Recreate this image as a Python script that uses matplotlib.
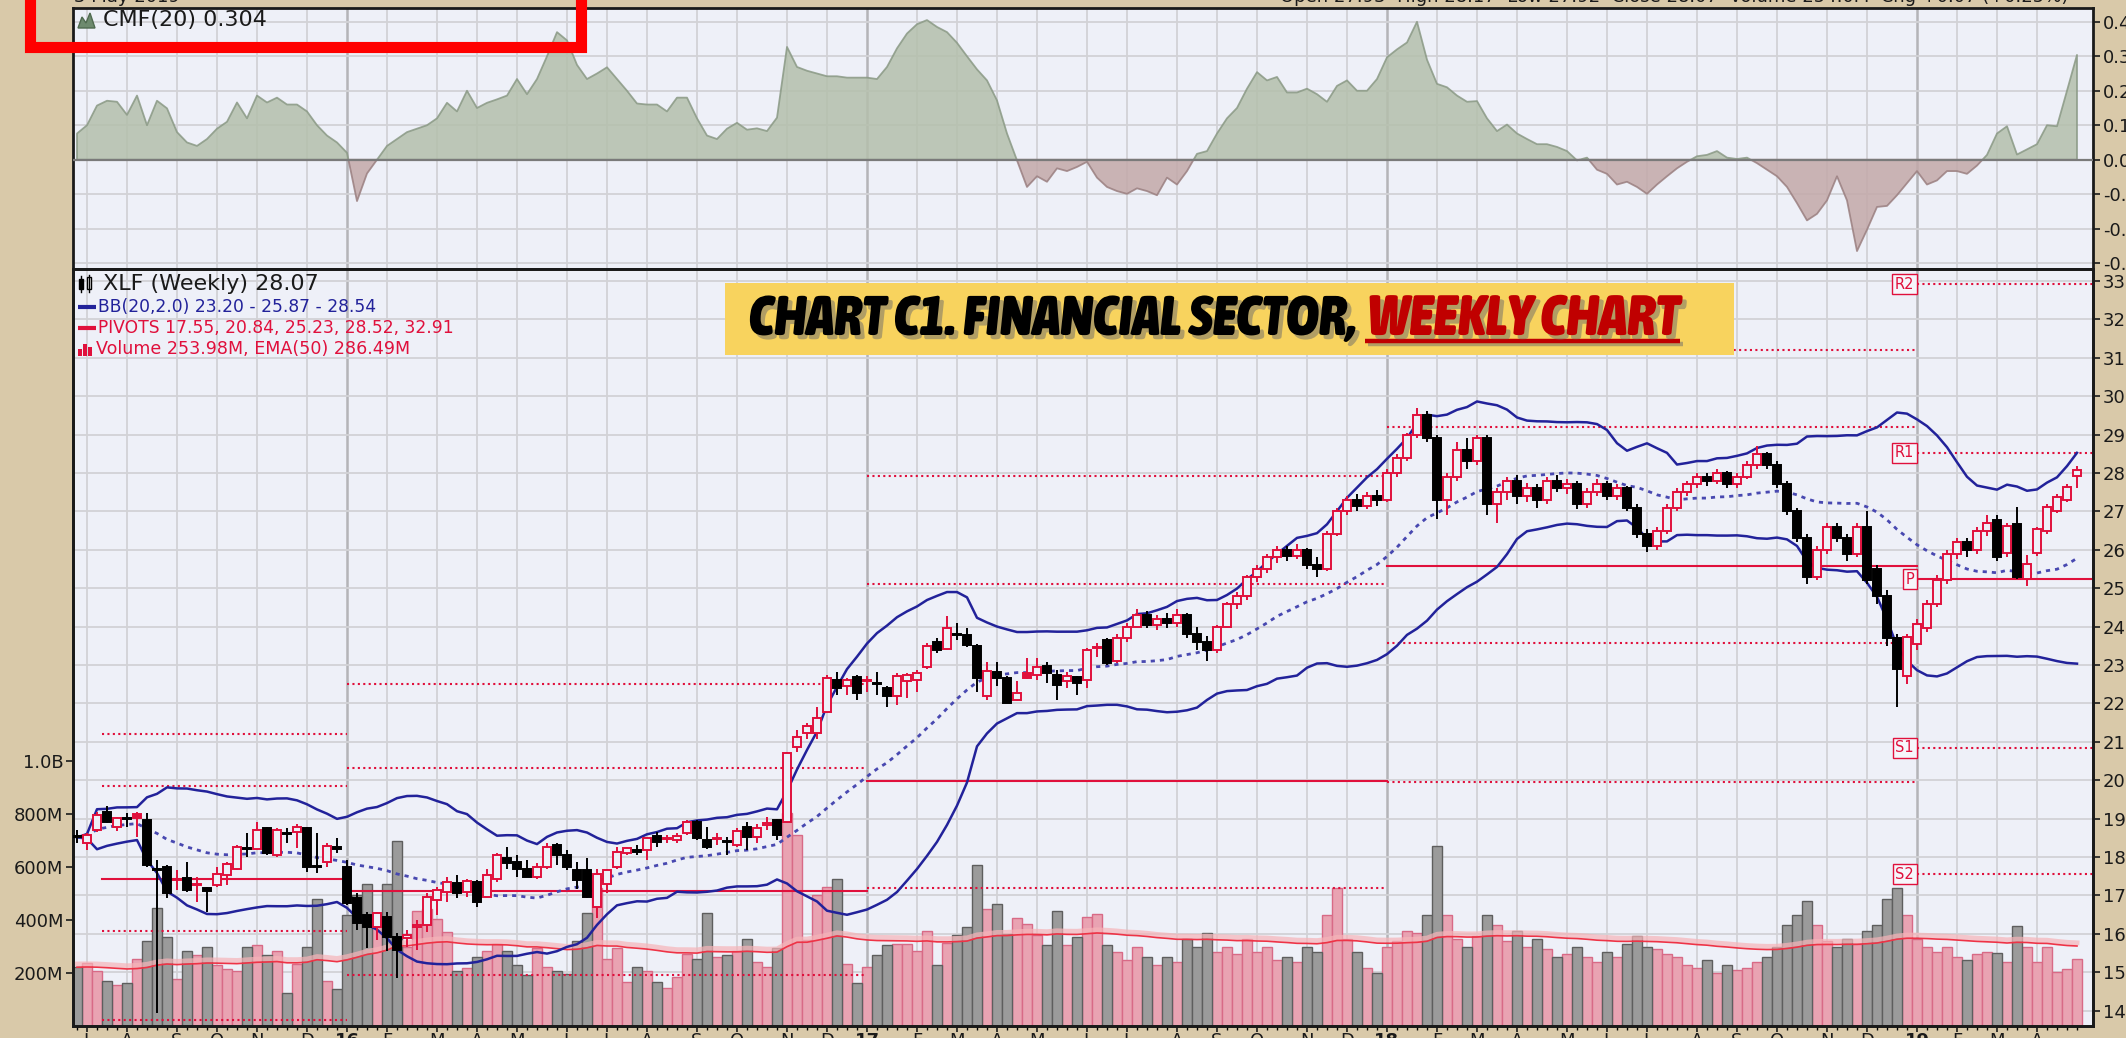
import numpy as np
import pandas as pd
import matplotlib
matplotlib.use("Agg")
import matplotlib.pyplot as plt
from matplotlib.patches import Rectangle, Polygon
from matplotlib.transforms import blended_transform_factory
from matplotlib.font_manager import FontProperties
import matplotlib.patheffects as pe
from matplotlib import font_manager

# ========= XLF weekly data (29 Jun 2015 .. 29 Apr 2019) =========
opens = np.array([
    18.53, 18.36, 18.70, 19.18, 18.79, 19.00, 19.11, 18.96, 17.70, 17.75,
    17.40, 17.45, 17.26, 17.20, 17.27, 17.53, 17.70, 18.24, 18.22, 18.75,
    18.05, 18.62, 18.66, 18.75, 17.77, 17.88, 18.25, 17.75, 16.92, 16.49,
    16.19, 16.45, 15.93, 15.88, 16.19, 16.23, 16.88, 17.10, 17.33, 17.10,
    17.36, 16.97, 17.44, 17.97, 17.88, 17.70, 17.49, 17.75, 18.31, 18.05,
    17.66, 17.66, 16.71, 17.31, 17.75, 18.10, 18.18, 18.18, 18.55, 18.47,
    18.43, 18.62, 18.92, 18.44, 18.47, 18.42, 18.31, 18.79, 18.53, 18.84,
    18.96, 18.92, 20.87, 21.24, 21.24, 21.78, 22.61, 22.44, 22.68, 22.59,
    22.53, 22.39, 22.18, 22.57, 22.61, 22.94, 23.61, 23.41, 23.80, 23.78,
    23.49, 22.18, 22.83, 22.65, 22.09, 22.80, 22.74, 22.98, 22.74, 22.57,
    22.68, 22.61, 23.45, 23.65, 23.10, 23.70, 24.00, 24.30, 24.05, 24.20,
    24.10, 24.30, 23.80, 23.60, 23.40, 24.00, 24.60, 24.80, 25.30, 25.50,
    25.80, 26.00, 25.85, 26.00, 25.60, 25.50, 26.40, 27.00, 27.30, 27.15,
    27.40, 27.30, 28.00, 28.40, 29.00, 29.50, 28.90, 27.30, 27.90, 28.60,
    28.30, 28.90, 27.20, 27.50, 27.80, 27.40, 27.60, 27.30, 27.80, 27.60,
    27.70, 27.20, 27.50, 27.70, 27.40, 27.60, 27.10, 26.40, 26.10, 26.50,
    27.10, 27.50, 27.70, 27.90, 27.80, 28.00, 27.70, 27.90, 28.20, 28.50,
    28.20, 27.70, 27.00, 26.30, 25.30, 26.00, 26.60, 26.30, 25.90, 26.60,
    25.50, 24.80, 23.70, 22.70, 23.55, 23.95, 24.60, 25.20, 25.90, 26.20,
    26.00, 26.50, 26.78, 25.92, 26.67, 25.24, 25.92, 26.49, 27.00, 27.30,
    27.93])
highs = np.array([
    18.70, 18.62, 19.18, 19.33, 19.05, 19.14, 19.18, 19.14, 17.92, 17.79,
    17.66, 17.88, 17.49, 17.23, 17.75, 17.88, 18.31, 18.62, 18.92, 18.79,
    18.75, 18.75, 18.86, 18.79, 18.62, 18.36, 18.49, 17.92, 17.05, 16.58,
    16.58, 16.58, 16.01, 16.10, 16.36, 17.05, 17.23, 17.49, 17.53, 17.44,
    17.40, 17.70, 18.10, 18.27, 18.05, 17.92, 17.84, 18.36, 18.36, 18.18,
    17.88, 17.97, 17.68, 17.70, 18.27, 18.25, 18.31, 18.53, 18.66, 18.57,
    18.62, 18.96, 18.96, 18.79, 18.62, 18.53, 18.75, 18.92, 18.87, 19.05,
    19.00, 20.74, 21.30, 21.50, 21.91, 22.74, 22.83, 22.65, 22.74, 22.70,
    22.83, 22.44, 22.78, 22.78, 22.87, 23.56, 23.69, 24.27, 24.08, 23.95,
    23.55, 23.09, 23.09, 22.70, 22.57, 23.17, 23.17, 23.09, 22.87, 22.83,
    22.70, 23.43, 23.56, 23.70, 23.80, 24.10, 24.45, 24.40, 24.30, 24.35,
    24.45, 24.35, 24.00, 23.75, 24.05, 24.65, 24.90, 25.35, 25.60, 25.90,
    26.10, 26.10, 26.15, 26.05, 25.80, 26.50, 27.10, 27.40, 27.45, 27.50,
    27.55, 28.10, 28.50, 29.05, 29.70, 29.60, 29.00, 28.00, 28.80, 28.90,
    29.00, 29.00, 27.60, 27.90, 27.95, 27.75, 27.70, 27.90, 27.95, 27.85,
    27.80, 27.60, 27.85, 27.80, 27.70, 27.65, 27.20, 26.55, 26.60, 27.20,
    27.60, 27.80, 28.00, 28.00, 28.10, 28.05, 28.00, 28.30, 28.70, 28.55,
    28.30, 27.80, 27.10, 26.40, 26.10, 26.70, 26.70, 26.40, 26.70, 27.00,
    25.60, 24.95, 23.80, 23.80, 24.20, 24.70, 25.35, 26.00, 26.30, 26.30,
    26.60, 26.90, 26.90, 26.70, 27.11, 25.86, 26.60, 27.20, 27.45, 27.70,
    28.17])
lows = np.array([
    18.36, 18.18, 18.66, 18.88, 18.68, 18.79, 18.53, 17.75, 13.93, 16.92,
    17.14, 17.10, 16.84, 16.58, 17.23, 17.27, 17.66, 18.01, 18.18, 18.05,
    18.01, 18.36, 18.23, 17.62, 17.58, 17.75, 18.10, 16.75, 16.10, 15.62,
    15.84, 15.54, 14.84, 15.66, 15.58, 16.06, 16.49, 16.84, 16.92, 16.97,
    16.71, 16.92, 17.36, 17.70, 17.49, 17.47, 17.42, 17.70, 17.79, 17.66,
    17.18, 16.92, 16.40, 17.05, 17.70, 18.05, 18.05, 17.92, 18.27, 18.36,
    18.36, 18.57, 18.44, 18.20, 18.31, 18.05, 18.27, 18.18, 18.36, 18.70,
    18.44, 18.88, 20.74, 21.06, 21.06, 21.74, 22.22, 22.22, 22.10, 22.30,
    22.22, 21.91, 21.96, 22.13, 22.30, 22.89, 23.30, 23.39, 23.65, 23.47,
    22.30, 22.10, 22.44, 22.00, 22.05, 22.63, 22.60, 22.52, 22.10, 22.39,
    22.22, 22.39, 23.22, 23.00, 23.05, 23.60, 23.95, 23.95, 23.90, 23.95,
    24.00, 23.70, 23.40, 23.10, 23.30, 23.95, 24.45, 24.70, 25.15, 25.40,
    25.65, 25.70, 25.75, 25.50, 25.30, 25.45, 26.35, 26.90, 27.00, 27.05,
    27.15, 27.25, 27.90, 28.30, 28.90, 28.80, 26.80, 26.90, 27.80, 28.10,
    28.20, 26.90, 26.70, 27.30, 27.20, 27.25, 27.10, 27.20, 27.50, 27.45,
    27.05, 27.10, 27.40, 27.30, 27.30, 27.00, 26.30, 25.95, 26.00, 26.40,
    27.00, 27.40, 27.60, 27.65, 27.70, 27.60, 27.60, 27.85, 28.10, 28.10,
    27.60, 26.90, 26.20, 25.10, 25.20, 25.90, 26.20, 25.70, 25.80, 25.10,
    24.60, 23.50, 21.90, 22.50, 23.40, 23.85, 24.50, 25.10, 25.75, 25.80,
    25.90, 26.35, 25.70, 25.80, 25.24, 25.05, 25.85, 26.40, 26.95, 27.25,
    27.60])
closes = np.array([
    18.51, 18.57, 19.09, 18.92, 19.01, 18.98, 19.01, 17.79, 17.65, 17.05,
    17.42, 17.14, 17.28, 17.12, 17.57, 17.83, 18.27, 18.22, 18.70, 18.10,
    18.70, 18.60, 18.79, 17.75, 17.73, 18.29, 18.22, 16.80, 16.27, 16.19,
    16.53, 15.93, 15.58, 15.97, 16.23, 16.97, 17.14, 17.36, 17.07, 17.38,
    16.84, 17.53, 18.05, 17.84, 17.70, 17.49, 17.75, 18.27, 18.05, 17.75,
    17.40, 16.97, 17.57, 17.66, 18.14, 18.23, 18.14, 18.49, 18.38, 18.49,
    18.55, 18.92, 18.49, 18.25, 18.49, 18.40, 18.68, 18.53, 18.75, 18.88,
    18.57, 20.70, 21.13, 21.41, 21.61, 22.65, 22.39, 22.61, 22.28, 22.61,
    22.50, 22.18, 22.70, 22.74, 22.80, 23.49, 23.39, 23.95, 23.78, 23.52,
    22.65, 22.85, 22.65, 22.02, 22.28, 22.65, 22.96, 22.78, 22.48, 22.70,
    22.54, 23.39, 23.48, 23.04, 23.70, 24.00, 24.30, 24.05, 24.20, 24.10,
    24.30, 23.80, 23.60, 23.40, 24.00, 24.60, 24.80, 25.30, 25.50, 25.80,
    26.00, 25.85, 26.00, 25.60, 25.50, 26.40, 27.00, 27.30, 27.15, 27.40,
    27.30, 28.00, 28.40, 29.00, 29.50, 28.90, 27.30, 27.90, 28.60, 28.30,
    28.90, 27.20, 27.50, 27.80, 27.40, 27.60, 27.30, 27.80, 27.60, 27.70,
    27.20, 27.50, 27.70, 27.40, 27.60, 27.10, 26.40, 26.10, 26.50, 27.10,
    27.50, 27.70, 27.90, 27.80, 28.00, 27.70, 27.90, 28.20, 28.50, 28.20,
    27.70, 27.00, 26.30, 25.30, 26.00, 26.60, 26.30, 25.90, 26.60, 25.20,
    24.80, 23.70, 22.90, 23.72, 24.07, 24.60, 25.20, 25.90, 26.20, 26.00,
    26.50, 26.70, 25.81, 26.62, 25.29, 25.64, 26.54, 27.11, 27.37, 27.64,
    28.07])
# weekly volume, millions of shares
volumes = np.array([
    222, 239, 207, 170, 155, 162, 254, 321, 447, 336,
    179, 283, 268, 298, 230, 216, 207, 298, 306, 268,
    283, 126, 235, 298, 478, 170, 141, 419, 494, 535,
    424, 535, 698, 300, 434, 440, 405, 354, 208, 218,
    260, 283, 311, 283, 230, 191, 296, 223, 208, 197,
    321, 428, 520, 254, 296, 167, 223, 208, 167, 145,
    185, 273, 254, 428, 260, 268, 283, 329, 243, 223,
    296, 804, 721, 323, 494, 525, 553, 235, 164, 223,
    268, 306, 311, 311, 283, 358, 230, 314, 343, 374,
    608, 440, 462, 348, 409, 386, 343, 306, 434, 306,
    336, 411, 424, 306, 280, 250, 300, 260, 230, 260,
    240, 330, 300, 350, 280, 300, 270, 330, 280, 300,
    250, 260, 240, 300, 280, 420, 520, 330, 280, 220,
    200, 300, 320, 360, 350, 420, 680, 420, 330, 300,
    340, 420, 380, 320, 360, 300, 330, 290, 260, 270,
    300, 260, 240, 280, 260, 310, 340, 300, 290, 270,
    260, 230, 220, 250, 200, 230, 210, 220, 240, 260,
    300, 380, 420, 470, 380, 320, 300, 330, 310, 360,
    380, 480, 520, 420, 330, 300, 280, 300, 260, 250,
    270, 280, 275, 243, 378, 298, 243, 298, 204, 215,
    253.98], dtype=float)
# Chaikin money flow (20)
cmf = np.array([
    0.076, 0.10, 0.157, 0.171, 0.168, 0.13, 0.186, 0.10, 0.171, 0.149,
    0.08, 0.05, 0.04, 0.06, 0.09, 0.11, 0.166, 0.12, 0.186, 0.166,
    0.18, 0.16, 0.16, 0.14, 0.10, 0.07, 0.05, 0.02, -0.12, -0.04,
    0.0, 0.04, 0.06, 0.08, 0.09, 0.10, 0.12, 0.165, 0.14, 0.20,
    0.15, 0.165, 0.175, 0.186, 0.234, 0.19, 0.234, 0.30, 0.37, 0.346,
    0.275, 0.234, 0.25, 0.268, 0.234, 0.20, 0.163, 0.16, 0.16, 0.14,
    0.18, 0.18, 0.12, 0.07, 0.06, 0.09, 0.107, 0.087, 0.091, 0.083,
    0.122, 0.327, 0.269, 0.258, 0.25, 0.242, 0.242, 0.238, 0.238, 0.238,
    0.234, 0.269, 0.323, 0.366, 0.393, 0.405, 0.385, 0.37, 0.339, 0.30,
    0.262, 0.23, 0.172, 0.076, -0.002, -0.079, -0.048, -0.064, -0.025, -0.033,
    -0.021, -0.006, -0.052, -0.079, -0.091, -0.099, -0.083, -0.091, -0.103, -0.052,
    -0.072, -0.033, 0.017, 0.025, 0.076, 0.12, 0.15, 0.206, 0.254, 0.23,
    0.24, 0.195, 0.195, 0.206, 0.19, 0.168, 0.214, 0.23, 0.2, 0.2,
    0.234, 0.297, 0.32, 0.34, 0.40, 0.29, 0.22, 0.21, 0.186, 0.168,
    0.17, 0.12, 0.083, 0.102, 0.076, 0.06, 0.045, 0.045, 0.037, 0.025,
    -0.002, 0.006, -0.029, -0.041, -0.072, -0.064, -0.079, -0.099, -0.072, -0.048,
    -0.025, -0.006, 0.01, 0.014, 0.025, 0.006, 0.002, 0.006, -0.01, -0.029,
    -0.048, -0.079, -0.126, -0.176, -0.157, -0.118, -0.048, -0.118, -0.265, -0.203,
    -0.137, -0.134, -0.103, -0.068, -0.033, -0.072, -0.06, -0.033, -0.033, -0.041,
    -0.017, 0.014, 0.076, 0.097, 0.015, 0.03, 0.045, 0.10, 0.097, 0.20,
    0.304])

# annual pivot levels S2, S1, P, R1, R2
pivot_years = [2015, 2016, 2017, 2018, 2019]
pivot_levels = [
    [13.76, 16.08, 17.44, 19.85, 21.19],
    [11.75, 14.94, 17.12, 20.31, 22.50],
    [12.10, 17.19, 19.98, 25.10, 27.92],
    [19.95, 23.57, 25.58, 29.20, 31.20],
    [17.55, 20.84, 25.23, 28.52, 32.91],
]
pivot_names = ["S2", "S1", "P", "R1", "R2"]

weeks = pd.date_range("2015-06-29", periods=len(closes), freq="7D")

# ========= colours =========
BG = "#eef0f8"
FIG_BG = "#d9c9a9"
RED = "#e0103c"
NAVY = "#22229a"
GRID = "#d2d2d6"
YEAR_GRID = "#b4b4b8"

W, H = 2126, 1038
fig = plt.figure(figsize=(W / 100, H / 100), dpi=100)
fig.patch.set_facecolor(FIG_BG)


def px_axes(x0, y0, x1, y1, **kw):
    return fig.add_axes([x0 / W, 1 - y1 / H, (x1 - x0) / W, (y1 - y0) / H], **kw)


def narrow_bold_font():
    # look for an installed narrow / condensed face, bold (and italic if possible)
    best = None
    for f in font_manager.fontManager.ttflist:
        nm = f.name.lower()
        st = f.stretch
        narrow = ("narrow" in nm or "condensed" in nm or
                  st in ("condensed", "semi-condensed", "extra-condensed", "ultra-condensed") or
                  (isinstance(st, (int, float)) and st < 500))
        if not narrow:
            continue
        wt = f.weight if isinstance(f.weight, (int, float)) else \
            {"bold": 700, "heavy": 900, "black": 900, "extra bold": 800, "semibold": 600}.get(f.weight, 400)
        score = (wt >= 700) * 4 + (wt >= 800) + (f.style in ("italic", "oblique")) * 2
        if best is None or score > best[0]:
            best = (score, f.fname)
    if best is None:
        return FontProperties(family="DejaVu Sans", weight="bold", style="italic")
    return FontProperties(fname=best[1])


n = len(closes)
x = np.arange(n)
XL = (-0.4, 201.6)

# month / year grid positions
months = pd.date_range("2015-07-01", "2019-05-01", freq="MS")
mpos = np.searchsorted(weeks.values, months.values)
keep = mpos < n
months, mpos = months[keep], mpos[keep]
mlabels = [f"{m.year % 100:02d}" if m.month == 1 else "JFMAMJJASOND"[m.month - 1] for m in months]
year_pos = {m.year: p for m, p in zip(months, mpos) if m.month == 1}


def month_grid(ax):
    for m, p in zip(months, mpos):
        if m.month == 1:
            ax.axvline(p, color=YEAR_GRID, lw=1.8, zorder=0)
        else:
            ax.axvline(p, color=GRID, lw=1.3, zorder=0)


def frame(ax):
    for s in ax.spines.values():
        s.set_color("#1a1a1a")
        s.set_linewidth(2)


# ========= CMF panel =========
ax_c = px_axes(73, 8, 2093, 269)
ax_c.set_facecolor(BG)
ax_c.set_xlim(*XL)
ax_c.set_ylim(-0.317, 0.44)
month_grid(ax_c)
for v in np.arange(-0.3, 0.45, 0.1):
    ax_c.axhline(v, color=GRID, lw=1.3, zorder=0)
ax_c.fill_between(x, cmf, 0, where=cmf >= 0, interpolate=True,
                  facecolor="#b4bfac", edgecolor="#8a9985", lw=1.3, alpha=0.85, zorder=2)
ax_c.fill_between(x, cmf, 0, where=cmf <= 0, interpolate=True,
                  facecolor="#c3a9a9", edgecolor="#9a7f80", lw=1.3, alpha=0.85, zorder=2)
ax_c.axhline(0, color="#7a7a7a", lw=1.6, zorder=3)
ax_c.set_xticks([])
ax_c.yaxis.tick_right()
cmf_ticks = np.round(np.arange(-0.3, 0.41, 0.1), 2)
ax_c.set_yticks(cmf_ticks)
ax_c.set_yticklabels([f"{v:.2f}" for v in cmf_ticks])
ax_c.tick_params(axis="y", direction="out", length=5, width=1.2, pad=2,
                 labelsize=13, colors="#1a1a1a")
frame(ax_c)

# ========= price + volume panel =========
ax_v = px_axes(73, 269, 2093, 1026)
ax_v.set_facecolor(BG)
ax_p = ax_v.twinx()
ax_p.patch.set_visible(False)
ax_v.set_xlim(*XL)
ax_v.set_ylim(0, 2857)
ax_p.set_ylim(13.6, 33.31)

month_grid(ax_v)
hz = blended_transform_factory(ax_v.transAxes, ax_p.transData)
for p in range(14, 34):
    ax_v.plot([0, 1], [p, p], transform=hz, color=GRID, lw=1.3, zorder=0)

# volume bars, coloured by close vs previous close
prev_close = np.r_[np.inf, closes[:-1]]
up = closes > prev_close
ax_v.bar(x[up], volumes[up], width=0.96, color="#e9a3b2", edgecolor="#d86a86",
         lw=1.0, zorder=2)
ax_v.bar(x[~up], volumes[~up], width=0.96, color="#9b9b9b", edgecolor="#5e5e5e",
         lw=1.0, zorder=2)
vol_ema = pd.Series(volumes).ewm(span=50, adjust=False).mean()
ax_v.plot(x, vol_ema + 12, color="#f6b4b8", lw=3.5, alpha=0.7, zorder=3)
ax_v.plot(x, vol_ema, color="#ee3346", lw=1.2, zorder=3)

# annual pivots
for k, yr in enumerate(pivot_years):
    x0 = 2.5 if yr == 2015 else year_pos[yr]
    x1 = year_pos.get(yr + 1, XL[1])
    for name, lev in zip(pivot_names, pivot_levels[k]):
        ax_p.plot([x0, x1], [lev, lev], color=RED, lw=1.5,
                  ls="-" if name == "P" else (0, (1, 1.6)), zorder=2)
        if yr == 2019:
            ax_p.text(x0 - 0.3, lev, name, ha="right", va="center", fontsize=10.5,
                      color=RED, zorder=6,
                      bbox=dict(boxstyle="square,pad=0.18", fc="#f6f6fb", ec=RED, lw=1))

# Bollinger bands (20, 2)
cs = pd.Series(closes)
mid = cs.rolling(20, min_periods=1).mean()
sd = cs.rolling(20, min_periods=1).std(ddof=0)
ax_p.plot(x, mid + 2 * sd, color=NAVY, lw=1.8, zorder=3)
ax_p.plot(x, mid - 2 * sd, color=NAVY, lw=1.8, zorder=3)
ax_p.plot(x, mid, color="#4848b0", lw=2.0, ls=(0, (1.5, 1.8)), zorder=3)

# candlesticks
ccol = np.where(up, RED, "black")
ax_p.vlines(x, lows, highs, colors=ccol, lw=1.4, zorder=4)
body_lo = np.minimum(opens, closes)
body_h = np.maximum(np.abs(closes - opens), 0.025)
face = [c if cl < op else BG for c, cl, op in zip(ccol, closes, opens)]
ax_p.bar(x, body_h, bottom=body_lo, width=0.72, color=face, edgecolor=ccol,
         lw=1.4, zorder=5)

# axes furniture
ax_p.set_yticks(range(14, 34))
ax_p.tick_params(axis="y", direction="out", length=5, width=1.2, pad=2,
                 labelsize=13, colors="#1a1a1a")
ax_v.set_yticks([200, 400, 600, 800, 1000])
ax_v.set_yticklabels(["200M", "400M", "600M", "800M", "1.0B"])
ax_v.tick_params(axis="y", direction="out", length=5, width=1.2, pad=2,
                 labelsize=13, colors="#1a1a1a")
ax_v.set_xticks(mpos)
ax_v.set_xticklabels(mlabels)
for lab, m in zip(ax_v.get_xticklabels(), months):
    if m.month == 1:
        lab.set_fontweight("bold")
ax_v.set_xticks(x, minor=True)
ax_v.tick_params(axis="x", which="major", direction="out", length=4, width=1.2,
                 pad=0.5, labelsize=13, colors="#1a1a1a")
ax_v.tick_params(axis="x", which="minor", direction="out", length=3, width=1)
ax_p.tick_params(axis="x", which="both", bottom=False, labelbottom=False)
frame(ax_v)
frame(ax_p)

# ========= overlay in pixel coordinates =========
ov = fig.add_axes([0, 0, 1, 1], zorder=10)
ov.set_xlim(0, W)
ov.set_ylim(H, 0)
ov.axis("off")
ov.patch.set_alpha(0)

# header line (cut by the top edge)
ov.text(74, 2, "3 May 2019", fontsize=13, va="baseline", color="#1a1a1a")
ov.text(2068, 2, "Open 27.93  High 28.17  Low 27.92  Close 28.07  Volume 254.0M  Chg +0.07 (+0.25%)",
        fontsize=13, ha="right", va="baseline", color="#1a1a1a")

# panel legends
ov.add_patch(Polygon([(78, 28), (82, 17), (86, 23), (90, 13), (95, 28)], closed=True,
                     fc="#6e8a6e", ec="#4f6a4f", lw=1))
ov.text(103, 20, "CMF(20) 0.304", fontsize=16, va="center", color="#1a1a1a")

ov.add_patch(Rectangle((79, 279), 4, 10, fc="black", ec="black"))
ov.add_patch(Rectangle((87, 277), 4, 12, fc="white", ec="black", lw=1))
ov.plot([81, 81], [276, 292], color="black", lw=1)
ov.plot([89, 89], [275, 292], color="black", lw=1)
ov.text(103, 284, "XLF (Weekly) 28.07", fontsize=16, va="center", color="#1a1a1a")
ov.plot([78, 96], [307, 307], color=NAVY, lw=3, solid_capstyle="butt")
ov.text(98, 307, "BB(20,2.0) 23.20 - 25.87 - 28.54", fontsize=12.3, va="center", color=NAVY)
ov.plot([78, 96], [328, 328], color=RED, lw=3, solid_capstyle="butt")
ov.text(98, 328, "PIVOTS 17.55, 20.84, 25.23, 28.52, 32.91", fontsize=12.3,
        va="center", color=RED)
for bx, bh in zip([78, 83, 88], [7, 12, 9]):
    ov.add_patch(Rectangle((bx, 356 - bh), 4, bh, fc=RED, ec="none"))
ov.text(96, 349, "Volume 253.98M, EMA(50) 286.49M", fontsize=12.6, va="center", color=RED)

# title banner
ov.add_patch(Rectangle((725, 283), 1009, 72, fc="#f8d35e", ec="none"))
tfont = narrow_bold_font()
shadow = [pe.withSimplePatchShadow(offset=(3, -3), shadow_rgbFace="#6b6b6b", alpha=0.5)]
t1 = ov.text(749, 335, "CHART C1. FINANCIAL SECTOR,", fontproperties=tfont,
             color="black", va="baseline", path_effects=shadow)
t2 = ov.text(1368, 335, "WEEKLY CHART", fontproperties=tfont, color="#c00000",
             va="baseline", path_effects=shadow)
for t in (t1, t2):
    t.set_fontsize(30)
    if tfont.get_file() is None:
        t.set_fontweight("bold")
        t.set_fontstyle("italic")
fig.canvas.draw()
rend = fig.canvas.get_renderer()
t1.set_fontsize(30 * 607 / t1.get_window_extent(rend).width)
t2.set_fontsize(30 * 312 / t2.get_window_extent(rend).width)
ov.plot([1365, 1680], [341, 341], color="#c00000", lw=3.2, solid_capstyle="butt",
        path_effects=[pe.SimpleLineShadow(offset=(2, -2), shadow_color="#6b6b6b", alpha=0.5),
                      pe.Normal()])

# red highlight frame
ov.add_patch(Rectangle((29.5, -30), 551, 76.5, fill=False, ec="#ff0000", lw=8))

fig.savefig("out.png", dpi=100, facecolor=fig.get_facecolor())
